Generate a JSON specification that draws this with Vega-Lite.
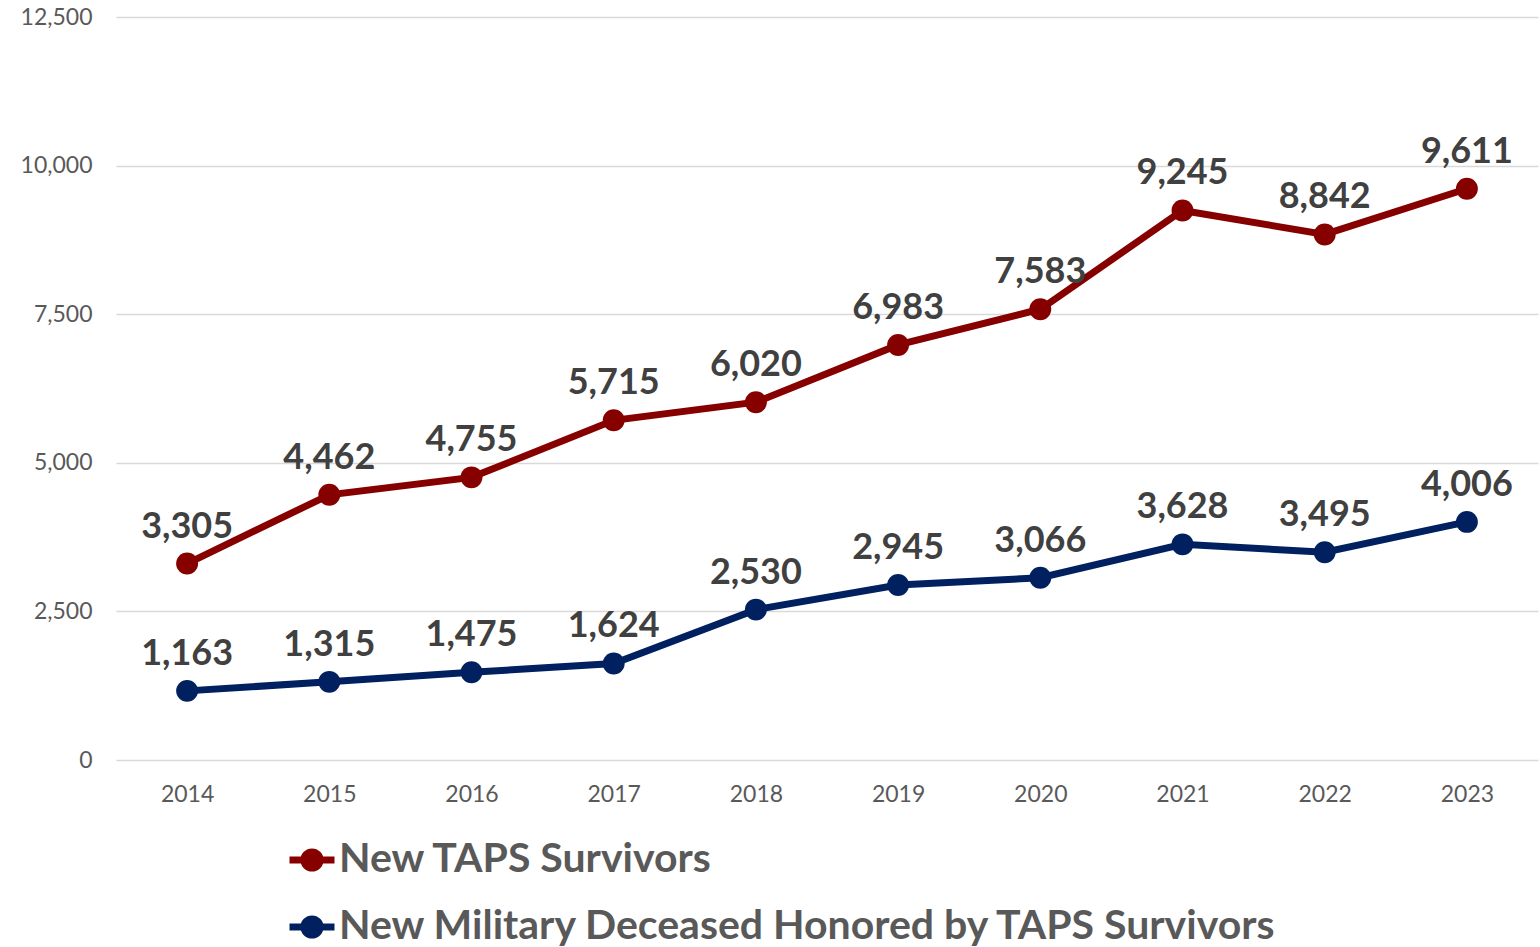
{
  "$schema": "https://vega.github.io/schema/vega-lite/v6.json",
  "width": 1422,
  "height": 743,
  "autosize": {"type": "none"},
  "padding": {"left": 116, "top": 17, "right": 2, "bottom": 187},
  "background": "white",
  "config": {"view": {"stroke": null}, "font": "Lato"},
  "data": {"values": [
    {"year": "2014", "series": "New TAPS Survivors", "value": 3305},
    {"year": "2015", "series": "New TAPS Survivors", "value": 4462},
    {"year": "2016", "series": "New TAPS Survivors", "value": 4755},
    {"year": "2017", "series": "New TAPS Survivors", "value": 5715},
    {"year": "2018", "series": "New TAPS Survivors", "value": 6020},
    {"year": "2019", "series": "New TAPS Survivors", "value": 6983},
    {"year": "2020", "series": "New TAPS Survivors", "value": 7583},
    {"year": "2021", "series": "New TAPS Survivors", "value": 9245},
    {"year": "2022", "series": "New TAPS Survivors", "value": 8842},
    {"year": "2023", "series": "New TAPS Survivors", "value": 9611},
    {"year": "2014", "series": "New Military Deceased Honored by TAPS Survivors", "value": 1163},
    {"year": "2015", "series": "New Military Deceased Honored by TAPS Survivors", "value": 1315},
    {"year": "2016", "series": "New Military Deceased Honored by TAPS Survivors", "value": 1475},
    {"year": "2017", "series": "New Military Deceased Honored by TAPS Survivors", "value": 1624},
    {"year": "2018", "series": "New Military Deceased Honored by TAPS Survivors", "value": 2530},
    {"year": "2019", "series": "New Military Deceased Honored by TAPS Survivors", "value": 2945},
    {"year": "2020", "series": "New Military Deceased Honored by TAPS Survivors", "value": 3066},
    {"year": "2021", "series": "New Military Deceased Honored by TAPS Survivors", "value": 3628},
    {"year": "2022", "series": "New Military Deceased Honored by TAPS Survivors", "value": 3495},
    {"year": "2023", "series": "New Military Deceased Honored by TAPS Survivors", "value": 4006}
  ]},
  "encoding": {
    "x": {"field": "year", "type": "ordinal", "title": null,
      "axis": {"labelAngle": 0, "labelFontSize": 23, "labelColor": "#595959", "labelPadding": 23, "domain": false, "ticks": false, "grid": false}},
    "y": {"field": "value", "type": "quantitative", "title": null,
      "scale": {"domain": [0, 12500], "nice": false},
      "axis": {"values": [0, 2500, 5000, 7500, 10000, 12500], "format": ",.0f", "labelFontSize": 23, "labelColor": "#595959", "labelPadding": 24, "domain": false, "ticks": false, "gridColor": "#d9d9d9", "gridWidth": 1.5}},
    "color": {"field": "series", "type": "nominal",
      "scale": {"domain": ["New TAPS Survivors", "New Military Deceased Honored by TAPS Survivors"], "range": ["#870000", "#002060"]},
      "legend": null}
  },
  "layer": [
    {"mark": {"type": "line", "strokeWidth": 7},
     "encoding": {
       "color": {"field": "series", "type": "nominal",
         "scale": {"domain": ["New TAPS Survivors", "New Military Deceased Honored by TAPS Survivors"], "range": ["#870000", "#002060"]},
         "legend": {"title": null, "orient": "none", "legendX": 170, "legendY": 817, "direction": "vertical",
           "labelFontSize": 41, "labelFontWeight": "bold", "labelColor": "#595959", "labelOffset": 1, "labelLimit": 2000,
           "symbolType": "M-1,0L1,0M0.36,0A0.36,0.36,0,1,1,-0.36,0A0.36,0.36,0,1,1,0.36,0Z",
           "symbolSize": 2025, "symbolStrokeWidth": 7, "rowPadding": 18}}
     }},
    {"mark": {"type": "point", "filled": true, "size": 480, "opacity": 1}},
    {"mark": {"type": "text", "fontSize": 36, "fontWeight": "bold", "color": "#404040", "dy": -26, "baseline": "alphabetic"},
     "encoding": {"text": {"field": "value", "type": "quantitative", "format": ","}, "color": {"value": "#404040"}}}
  ]
}
